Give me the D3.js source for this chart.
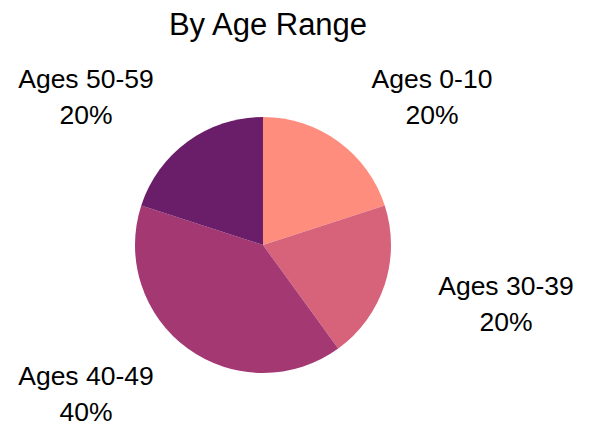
<!DOCTYPE html>
<html>
<head>
<meta charset="utf-8">
<script src="https://cdn.jsdelivr.net/npm/d3@7"></script>
<style>
  html, body { margin: 0; padding: 0; background: #ffffff; }
  svg { display: block; font-family: "Liberation Sans", Arial, sans-serif; }
</style>
</head>
<body>
<svg id="chart" width="592" height="425"></svg>
<script>
const title = "By Age Range";
const categories = ["Ages 0-10", "Ages 30-39", "Ages 40-49", "Ages 50-59"];
const values = [20, 20, 40, 20];
const colors = ["#fe8d7d", "#d7637a", "#a43872", "#6a1d69"];
// label anchor positions (layout only)
const labelPos = [[432, 88], [506, 295], [86, 385], [86, 88]];

const svg = d3.select("#chart");
const cx = 263, cy = 245, r = 128;

svg.append("text")
  .attr("x", 268).attr("y", 35)
  .attr("text-anchor", "middle")
  .attr("font-size", 31)
  .attr("fill", "#000")
  .text(title);

const data = categories.map((c, i) => ({ cat: c, value: values[i], color: colors[i], pos: labelPos[i] }));
const pie = d3.pie().value(d => d.value).sort(null);
const arc = d3.arc().innerRadius(0).outerRadius(r);
const total = d3.sum(values);

const g = svg.append("g").attr("transform", `translate(${cx},${cy})`);
g.selectAll("path")
  .data(pie(data))
  .join("path")
  .attr("d", arc)
  .attr("fill", d => d.data.color);

const lbl = svg.append("g").selectAll("text")
  .data(data)
  .join("text")
  .attr("text-anchor", "middle")
  .attr("font-size", 26.5)
  .attr("fill", "#000");
lbl.append("tspan")
  .attr("x", d => d.pos[0]).attr("y", d => d.pos[1])
  .text(d => d.cat);
lbl.append("tspan")
  .attr("x", d => d.pos[0]).attr("y", d => d.pos[1] + 36)
  .text(d => Math.round(d.value / total * 100) + "%");
</script>
</body>
</html>
